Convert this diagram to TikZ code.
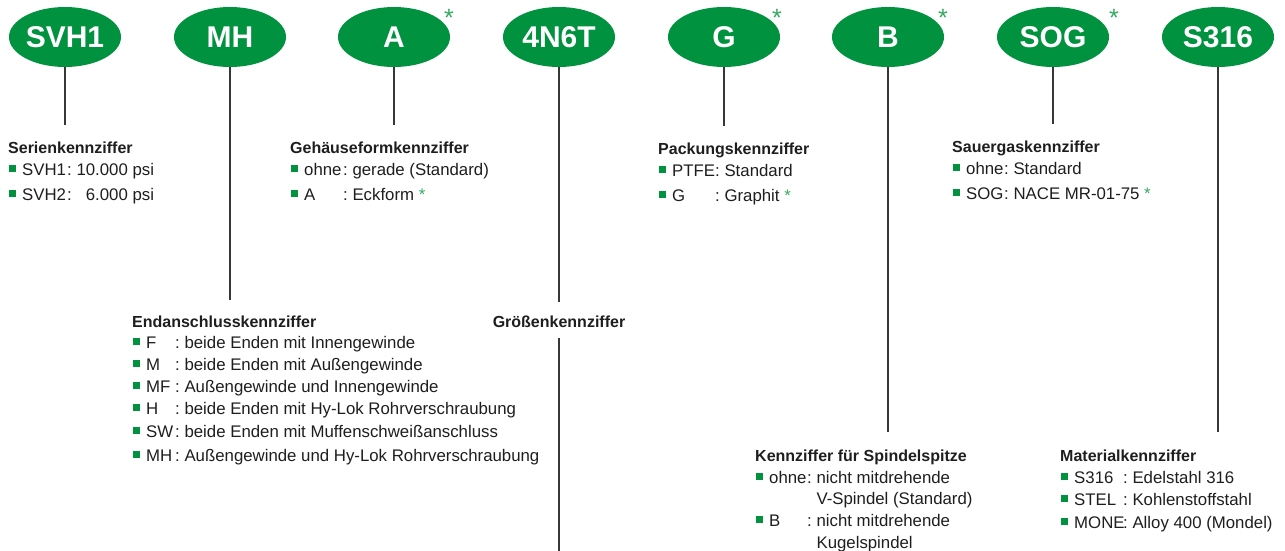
\documentclass[tikz,border=0pt]{standalone}
\usepackage{fontspec}
\setmainfont{Liberation Sans}
\usetikzlibrary{shapes.geometric}
\definecolor{hygreen}{RGB}{0,146,63}
\definecolor{stargreen}{RGB}{50,170,95}
\definecolor{txt}{RGB}{30,30,30}
\definecolor{linec}{RGB}{55,55,55}
\newlength\keyw
\newcommand\bul{\textcolor{hygreen}{\rule[3pt]{6.5pt}{7pt}}\hspace{6.5pt}}
\newcommand\kv[2]{\bul\makebox[\keyw][l]{#1}:\ #2}
\newcommand\cont[1]{\hspace*{13pt}\hspace*{\keyw}\phantom{:\ }#1}
\newcommand\grast{\textcolor{stargreen}{*}}
\begin{document}
\begin{tikzpicture}[x=1pt,y=-1pt,
  oval/.style={ellipse, fill=hygreen, minimum width=112pt, minimum height=60pt, inner sep=0pt, text=white, font=\bfseries\fontsize{30}{30}\selectfont, text height=21.5pt, text depth=0pt},
  conn/.style={draw=linec, line width=1.3pt},
  head/.style={anchor=base west, inner sep=0pt, text=txt, font=\bfseries\fontsize{16}{20}\selectfont, text height=12pt, text depth=3.5pt},
  itm/.style={anchor=base west, inner sep=0pt, text=txt, font=\fontsize{16.8}{22}\selectfont},
  kw/.code={\global\keyw=#1\relax},
  astnode/.style={anchor=base, inner sep=0pt, text=stargreen, font=\fontsize{25}{25}\selectfont}
]
\useasboundingbox (0,0) rectangle (1285,551);

% ovals
\node[oval] (e1) at (65,37) {SVH1};
\node[oval] (e2) at (230,37) {MH};
\node[oval] (e3) at (394,37) {A};
\node[oval] (e4) at (559,37) {4N6T};
\node[oval] (e5) at (724,37) {G};
\node[oval] (e6) at (888,37) {B};
\node[oval] (e7) at (1053,37) {SOG};
\node[oval] (e8) at (1218,37) {S316};

% asterisks
\node[astnode] (s3) at (449,27) {*};
\node[astnode] (s5) at (777,27) {*};
\node[astnode] (s6) at (943,27) {*};
\node[astnode] (s7) at (1114,27) {*};

% group 1
\node[head] (h1) at (8,153) {Serienkennziffer};
\node[itm,kw=45pt] (i1a) at (9,175) {\kv{SVH1}{10.000 psi}};
\node[itm,kw=45pt] (i1b) at (9,200) {\kv{SVH2}{\phantom{1}6.000 psi}};

% group 2
\node[head] (h2) at (290,153) {Gehäuseformkennziffer};
\node[itm,kw=39pt] (i2a) at (291,175) {\kv{ohne}{gerade (Standard)}};
\node[itm,kw=39pt] (i2b) at (291,200) {\kv{A}{Eckform \grast}};

% group 3
\node[head] (h3) at (132,327) {Endanschlusskennziffer};
\node[itm,kw=29pt] (i3a) at (133,348) {\kv{F}{beide Enden mit Innengewinde}};
\node[itm,kw=29pt] (i3b) at (133,370) {\kv{M}{beide Enden mit Außengewinde}};
\node[itm,kw=29pt] (i3c) at (133,392) {\kv{MF}{Außengewinde und Innengewinde}};
\node[itm,kw=29pt] (i3d) at (133,414) {\kv{H}{beide Enden mit Hy-Lok Rohrverschraubung}};
\node[itm,kw=29pt] (i3e) at (133,437) {\kv{SW}{beide Enden mit Muffenschweißanschluss}};
\node[itm,kw=29pt] (i3f) at (133,461) {\kv{MH}{Außengewinde und Hy-Lok Rohrverschraubung}};

% group 4
\node[head,anchor=base] (h4) at (559,327) {Größenkennziffer};
\coordinate (bot) at (559,551);

% group 5
\node[head] (h5) at (658,154) {Packungskennziffer};
\node[itm,kw=43pt] (i5a) at (659,176) {\kv{PTFE}{Standard}};
\node[itm,kw=43pt] (i5b) at (659,201) {\kv{G}{Graphit \grast}};

% group 6
\node[head] (h6) at (755,461) {Kennziffer für Spindelspitze};
\node[itm,kw=38pt] (i6a) at (756,483) {\kv{ohne}{nicht mitdrehende}};
\node[itm,kw=38pt] (i6b) at (756,504) {\cont{V-Spindel (Standard)}};
\node[itm,kw=38pt] (i6c) at (756,526) {\kv{B}{nicht mitdrehende}};
\node[itm,kw=38pt] (i6d) at (756,548) {\cont{Kugelspindel}};

% group 7
\node[head] (h7) at (952,152) {Sauergaskennziffer};
\node[itm,kw=38pt] (i7a) at (953,174) {\kv{ohne}{Standard}};
\node[itm,kw=38pt] (i7b) at (953,199) {\kv{SOG}{NACE MR-01-75 \grast}};

% group 8
\node[head] (h8) at (1060,461) {Materialkennziffer};
\node[itm,kw=49pt] (i8a) at (1061,483) {\kv{S316}{Edelstahl 316}};
\node[itm,kw=49pt] (i8b) at (1061,505) {\kv{STEL}{Kohlenstoffstahl}};
\node[itm,kw=49pt] (i8c) at (1061,528) {\kv{MONE}{Alloy 400 (Mondel)}};

% connectors
\draw[conn, shorten >=16pt] (e1.south) -- (e1.south |- h1.north);
\draw[conn, shorten >=15pt] (e2.south) -- (e2.south |- h3.north);
\draw[conn, shorten >=16pt] (e3.south) -- (e3.south |- h2.north);
\draw[conn, shorten >=13pt] (e4.south) -- (h4.north);
\draw[conn, shorten <=7.5pt] (h4.south) -- (bot);
\draw[conn, shorten >=16pt] (e5.south) -- (e5.south |- h5.north);
\draw[conn, shorten >=17pt] (e6.south) -- (e6.south |- h6.north);
\draw[conn, shorten >=16pt] (e7.south) -- (e7.south |- h7.north);
\draw[conn, shorten >=17pt] (e8.south) -- (e8.south |- h8.north);
\end{tikzpicture}
\end{document}
